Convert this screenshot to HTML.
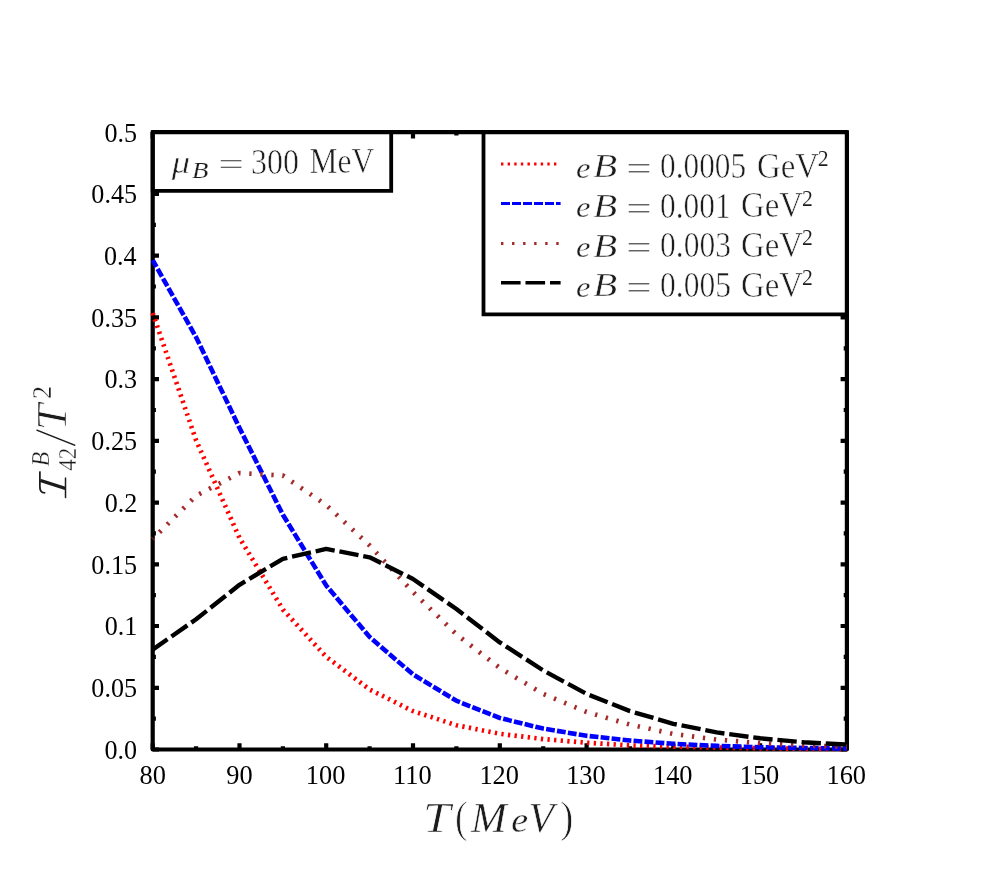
<!DOCTYPE html>
<html><head><meta charset="utf-8"><title>chart</title>
<style>html,body{margin:0;padding:0;background:#fff;}body{width:997px;height:886px;position:relative;overflow:hidden;font-family:"Liberation Serif",serif;}</style></head>
<body>
<svg width="997" height="886" viewBox="0 0 997 886" style="position:absolute;left:0;top:0">
<rect x="0" y="0" width="997" height="886" fill="#fff"/>
<path d="M152.7,749.5 v-6.3 M152.7,132.2 v6.3 M196.1,749.5 v-3.2 M196.1,132.2 v3.2 M239.5,749.5 v-6.3 M239.5,132.2 v6.3 M282.9,749.5 v-3.2 M282.9,132.2 v3.2 M326.2,749.5 v-6.3 M326.2,132.2 v6.3 M369.6,749.5 v-3.2 M369.6,132.2 v3.2 M413.0,749.5 v-6.3 M413.0,132.2 v6.3 M456.4,749.5 v-3.2 M456.4,132.2 v3.2 M499.8,749.5 v-6.3 M499.8,132.2 v6.3 M543.2,749.5 v-3.2 M543.2,132.2 v3.2 M586.6,749.5 v-6.3 M586.6,132.2 v6.3 M630.0,749.5 v-3.2 M630.0,132.2 v3.2 M673.3,749.5 v-6.3 M673.3,132.2 v6.3 M716.7,749.5 v-3.2 M716.7,132.2 v3.2 M760.1,749.5 v-6.3 M760.1,132.2 v6.3 M803.5,749.5 v-3.2 M803.5,132.2 v3.2 M846.9,749.5 v-6.3 M846.9,132.2 v6.3 M152.7,749.5 h6.3 M846.9,749.5 h-6.3 M152.7,718.6 h3.2 M846.9,718.6 h-3.2 M152.7,687.8 h6.3 M846.9,687.8 h-6.3 M152.7,656.9 h3.2 M846.9,656.9 h-3.2 M152.7,626.0 h6.3 M846.9,626.0 h-6.3 M152.7,595.2 h3.2 M846.9,595.2 h-3.2 M152.7,564.3 h6.3 M846.9,564.3 h-6.3 M152.7,533.4 h3.2 M846.9,533.4 h-3.2 M152.7,502.6 h6.3 M846.9,502.6 h-6.3 M152.7,471.7 h3.2 M846.9,471.7 h-3.2 M152.7,440.9 h6.3 M846.9,440.9 h-6.3 M152.7,410.0 h3.2 M846.9,410.0 h-3.2 M152.7,379.1 h6.3 M846.9,379.1 h-6.3 M152.7,348.3 h3.2 M846.9,348.3 h-3.2 M152.7,317.4 h6.3 M846.9,317.4 h-6.3 M152.7,286.5 h3.2 M846.9,286.5 h-3.2 M152.7,255.7 h6.3 M846.9,255.7 h-6.3 M152.7,224.8 h3.2 M846.9,224.8 h-3.2 M152.7,193.9 h6.3 M846.9,193.9 h-6.3 M152.7,163.1 h3.2 M846.9,163.1 h-3.2 M152.7,132.2 h6.3 M846.9,132.2 h-6.3" stroke="#000" stroke-width="4.2" fill="none"/>
<path d="M152.7,132.2 V190.8 H391.2 V132.2 Z" fill="#fff" stroke="#000" stroke-width="3.8"/>
<path d="M846.9,132.2 H483.5 V314.3 H846.9 Z" fill="#fff" stroke="#000" stroke-width="3.8"/>
<rect x="152.7" y="132.2" width="694.2" height="617.3" fill="none" stroke="#000" stroke-width="4.2" stroke-linejoin="round"/>
<path d="M152.7,313.0 L196.1,440.4 L239.5,537.9 L282.9,609.5 L326.2,656.8 L369.6,689.5 L413.0,711.1 L456.4,725.2 L499.8,733.8 L543.2,739.1 L586.6,742.7 L630.0,745.4 L673.3,746.6 L716.7,747.6 L760.1,748.3 L803.5,748.8 L846.9,749.0" fill="none" stroke="#ff0000" stroke-width="4.7" stroke-dasharray="2.3 4.33"/>
<path d="M152.7,260.2 L196.1,337.2 L239.5,428.0 L282.9,514.8 L326.2,585.5 L369.6,637.0 L413.0,674.4 L456.4,700.8 L499.8,718.0 L543.2,728.6 L586.6,735.8 L630.0,740.5 L673.3,743.8 L716.7,745.9 L760.1,747.2 L803.5,748.0 L846.9,748.5" fill="none" stroke="#0000ff" stroke-width="4.6" stroke-dasharray="8.8 2.23" stroke-dashoffset="1"/>
<path d="M152.7,539.0 L196.1,495.7 L239.5,473.1 L282.9,475.5 L326.2,505.0 L369.6,545.5 L413.0,592.0 L456.4,634.3 L499.8,668.0 L543.2,693.9 L586.6,712.0 L630.0,724.6 L673.3,733.9 L716.7,739.6 L760.1,743.2 L803.5,745.4 L846.9,746.9" fill="none" stroke="#a52a2a" stroke-width="4.7" stroke-dasharray="2.3 8.75" stroke-dashoffset="1.5"/>
<path d="M152.7,649.6 L196.1,619.3 L239.5,584.8 L282.9,558.8 L326.2,548.9 L369.6,557.3 L413.0,579.0 L456.4,609.0 L499.8,642.4 L543.2,670.4 L586.6,693.9 L630.0,711.1 L673.3,723.8 L716.7,732.4 L760.1,738.3 L803.5,742.3 L846.9,744.6" fill="none" stroke="#000000" stroke-width="4.4" stroke-dasharray="19.4 4.85" stroke-dashoffset="1.4" stroke-linejoin="round"/>
<path d="M501,164 H560.6" stroke="#ff0000" stroke-width="3.0" stroke-dasharray="2.4 4.22" fill="none"/>
<path d="M501,203.6 H560.6" stroke="#0000ff" stroke-width="3.0" stroke-dasharray="9.0 2.0" fill="none"/>
<path d="M501,243.4 H560.6" stroke="#a52a2a" stroke-width="3.0" stroke-dasharray="2.4 8.65" fill="none"/>
<path d="M501,282.7 H560.6" stroke="#000000" stroke-width="3.4" stroke-dasharray="19.6 4.9" fill="none"/>
<g opacity="0.999">
<text transform="translate(104.38,758.88) scale(0.2611,0.2720)" font-family="Liberation Serif, serif" font-size="100" fill="#000">0.0</text>
<text transform="translate(91.33,697.15) scale(0.2611,0.2720)" font-family="Liberation Serif, serif" font-size="100" fill="#000">0.05</text>
<text transform="translate(104.79,635.42) scale(0.2611,0.2720)" font-family="Liberation Serif, serif" font-size="100" fill="#000">0.1</text>
<text transform="translate(91.33,573.69) scale(0.2611,0.2720)" font-family="Liberation Serif, serif" font-size="100" fill="#000">0.15</text>
<text transform="translate(104.79,511.95) scale(0.2611,0.2720)" font-family="Liberation Serif, serif" font-size="100" fill="#000">0.2</text>
<text transform="translate(91.33,450.23) scale(0.2611,0.2720)" font-family="Liberation Serif, serif" font-size="100" fill="#000">0.25</text>
<text transform="translate(104.38,388.49) scale(0.2611,0.2720)" font-family="Liberation Serif, serif" font-size="100" fill="#000">0.3</text>
<text transform="translate(91.33,326.76) scale(0.2611,0.2720)" font-family="Liberation Serif, serif" font-size="100" fill="#000">0.35</text>
<text transform="translate(103.98,265.04) scale(0.2611,0.2720)" font-family="Liberation Serif, serif" font-size="100" fill="#000">0.4</text>
<text transform="translate(91.33,203.31) scale(0.2611,0.2720)" font-family="Liberation Serif, serif" font-size="100" fill="#000">0.45</text>
<text transform="translate(104.38,141.58) scale(0.2611,0.2720)" font-family="Liberation Serif, serif" font-size="100" fill="#000">0.5</text>
<text transform="translate(139.50,784.37) scale(0.2639,0.2764)" font-family="Liberation Serif, serif" font-size="100" fill="#000">80</text>
<text transform="translate(226.28,784.37) scale(0.2639,0.2764)" font-family="Liberation Serif, serif" font-size="100" fill="#000">90</text>
<text transform="translate(305.84,784.37) scale(0.2639,0.2764)" font-family="Liberation Serif, serif" font-size="100" fill="#000">100</text>
<text transform="translate(393.10,784.37) scale(0.2639,0.2764)" font-family="Liberation Serif, serif" font-size="100" fill="#000">110</text>
<text transform="translate(479.39,784.37) scale(0.2639,0.2764)" font-family="Liberation Serif, serif" font-size="100" fill="#000">120</text>
<text transform="translate(566.16,784.37) scale(0.2639,0.2764)" font-family="Liberation Serif, serif" font-size="100" fill="#000">130</text>
<text transform="translate(652.94,784.37) scale(0.2639,0.2764)" font-family="Liberation Serif, serif" font-size="100" fill="#000">140</text>
<text transform="translate(739.71,784.37) scale(0.2639,0.2764)" font-family="Liberation Serif, serif" font-size="100" fill="#000">150</text>
<text transform="translate(826.49,784.37) scale(0.2639,0.2764)" font-family="Liberation Serif, serif" font-size="100" fill="#000">160</text>
<text transform="translate(171.75,173.08) scale(0.3662,0.3220)" font-family="Liberation Serif, serif" font-size="100" font-style="italic" fill="#1c1c1c" stroke="#fff" stroke-width="0.55" vector-effect="non-scaling-stroke">μ</text>
<text transform="translate(191.92,177.52) scale(0.2688,0.2316)" font-family="Liberation Serif, serif" font-size="100" font-style="italic" fill="#1c1c1c" stroke="#fff" stroke-width="0.2" vector-effect="non-scaling-stroke">B</text>
<text transform="translate(218.14,175.02) scale(0.4574,0.3102)" font-family="Liberation Serif, serif" font-size="100" fill="#1c1c1c" stroke="#fff" stroke-width="0.55" vector-effect="non-scaling-stroke">=</text>
<text transform="translate(250.98,173.77) scale(0.3196,0.3497)" font-family="Liberation Serif, serif" font-size="100" fill="#1c1c1c" stroke="#fff" stroke-width="0.55" vector-effect="non-scaling-stroke">300</text>
<text transform="translate(309.59,172.97) scale(0.3145,0.3519)" font-family="Liberation Serif, serif" font-size="100" fill="#1c1c1c" stroke="#fff" stroke-width="0.55" vector-effect="non-scaling-stroke">MeV</text>
<text transform="translate(576.05,177.67) scale(0.3269,0.2996)" font-family="Liberation Serif, serif" font-size="100" font-style="italic" fill="#1c1c1c" stroke="#fff" stroke-width="0.35" vector-effect="non-scaling-stroke">e</text>
<text transform="translate(592.98,177.28) scale(0.3965,0.3459)" font-family="Liberation Serif, serif" font-size="100" font-style="italic" fill="#1c1c1c" stroke="#fff" stroke-width="0.55" vector-effect="non-scaling-stroke">B</text>
<text transform="translate(625.94,180.08) scale(0.4574,0.3328)" font-family="Liberation Serif, serif" font-size="100" fill="#1c1c1c" stroke="#fff" stroke-width="0.55" vector-effect="non-scaling-stroke">=</text>
<text transform="translate(660.10,178.07) scale(0.3127,0.3497)" font-family="Liberation Serif, serif" font-size="100" fill="#1c1c1c" stroke="#fff" stroke-width="0.55" vector-effect="non-scaling-stroke">0.0005</text>
<text transform="translate(757.05,177.66) scale(0.3282,0.3599)" font-family="Liberation Serif, serif" font-size="100" fill="#1c1c1c" stroke="#fff" stroke-width="0.55" vector-effect="non-scaling-stroke">GeV</text>
<text transform="translate(817.68,165.84) scale(0.2176,0.2230)" font-family="Liberation Serif, serif" font-size="100" fill="#1c1c1c" stroke="#fff" stroke-width="0.1" vector-effect="non-scaling-stroke">2</text>
<text transform="translate(576.05,217.34) scale(0.3269,0.2996)" font-family="Liberation Serif, serif" font-size="100" font-style="italic" fill="#1c1c1c" stroke="#fff" stroke-width="0.35" vector-effect="non-scaling-stroke">e</text>
<text transform="translate(592.98,216.95) scale(0.3965,0.3459)" font-family="Liberation Serif, serif" font-size="100" font-style="italic" fill="#1c1c1c" stroke="#fff" stroke-width="0.55" vector-effect="non-scaling-stroke">B</text>
<text transform="translate(625.94,219.75) scale(0.4574,0.3328)" font-family="Liberation Serif, serif" font-size="100" fill="#1c1c1c" stroke="#fff" stroke-width="0.55" vector-effect="non-scaling-stroke">=</text>
<text transform="translate(660.10,217.74) scale(0.3137,0.3497)" font-family="Liberation Serif, serif" font-size="100" fill="#1c1c1c" stroke="#fff" stroke-width="0.55" vector-effect="non-scaling-stroke">0.001</text>
<text transform="translate(741.05,217.33) scale(0.3282,0.3599)" font-family="Liberation Serif, serif" font-size="100" fill="#1c1c1c" stroke="#fff" stroke-width="0.55" vector-effect="non-scaling-stroke">GeV</text>
<text transform="translate(802.08,205.51) scale(0.2176,0.2230)" font-family="Liberation Serif, serif" font-size="100" fill="#1c1c1c" stroke="#fff" stroke-width="0.1" vector-effect="non-scaling-stroke">2</text>
<text transform="translate(576.05,257.01) scale(0.3269,0.2996)" font-family="Liberation Serif, serif" font-size="100" font-style="italic" fill="#1c1c1c" stroke="#fff" stroke-width="0.35" vector-effect="non-scaling-stroke">e</text>
<text transform="translate(592.98,256.62) scale(0.3965,0.3459)" font-family="Liberation Serif, serif" font-size="100" font-style="italic" fill="#1c1c1c" stroke="#fff" stroke-width="0.55" vector-effect="non-scaling-stroke">B</text>
<text transform="translate(625.94,259.42) scale(0.4574,0.3328)" font-family="Liberation Serif, serif" font-size="100" fill="#1c1c1c" stroke="#fff" stroke-width="0.55" vector-effect="non-scaling-stroke">=</text>
<text transform="translate(660.10,257.41) scale(0.3152,0.3497)" font-family="Liberation Serif, serif" font-size="100" fill="#1c1c1c" stroke="#fff" stroke-width="0.55" vector-effect="non-scaling-stroke">0.003</text>
<text transform="translate(741.05,257.00) scale(0.3282,0.3599)" font-family="Liberation Serif, serif" font-size="100" fill="#1c1c1c" stroke="#fff" stroke-width="0.55" vector-effect="non-scaling-stroke">GeV</text>
<text transform="translate(802.08,245.18) scale(0.2176,0.2230)" font-family="Liberation Serif, serif" font-size="100" fill="#1c1c1c" stroke="#fff" stroke-width="0.1" vector-effect="non-scaling-stroke">2</text>
<text transform="translate(576.05,296.68) scale(0.3269,0.2996)" font-family="Liberation Serif, serif" font-size="100" font-style="italic" fill="#1c1c1c" stroke="#fff" stroke-width="0.35" vector-effect="non-scaling-stroke">e</text>
<text transform="translate(592.98,296.29) scale(0.3965,0.3459)" font-family="Liberation Serif, serif" font-size="100" font-style="italic" fill="#1c1c1c" stroke="#fff" stroke-width="0.55" vector-effect="non-scaling-stroke">B</text>
<text transform="translate(625.94,299.09) scale(0.4574,0.3328)" font-family="Liberation Serif, serif" font-size="100" fill="#1c1c1c" stroke="#fff" stroke-width="0.55" vector-effect="non-scaling-stroke">=</text>
<text transform="translate(660.10,297.08) scale(0.3152,0.3497)" font-family="Liberation Serif, serif" font-size="100" fill="#1c1c1c" stroke="#fff" stroke-width="0.55" vector-effect="non-scaling-stroke">0.005</text>
<text transform="translate(741.05,296.67) scale(0.3282,0.3599)" font-family="Liberation Serif, serif" font-size="100" fill="#1c1c1c" stroke="#fff" stroke-width="0.55" vector-effect="non-scaling-stroke">GeV</text>
<text transform="translate(802.08,284.85) scale(0.2176,0.2230)" font-family="Liberation Serif, serif" font-size="100" fill="#1c1c1c" stroke="#fff" stroke-width="0.1" vector-effect="non-scaling-stroke">2</text>
<text transform="translate(422.64,831.92) scale(0.5020,0.4258)" font-family="Liberation Serif, serif" font-size="100" font-style="italic" fill="#1c1c1c" stroke="#fff" stroke-width="0.8" vector-effect="non-scaling-stroke">T</text>
<text transform="translate(455.11,832.15) scale(0.3748,0.4419)" font-family="Liberation Serif, serif" font-size="100" fill="#1c1c1c" stroke="#fff" stroke-width="0.8" vector-effect="non-scaling-stroke">(</text>
<text transform="translate(471.07,831.80) scale(0.4292,0.4221)" font-family="Liberation Serif, serif" font-size="100" font-style="italic" fill="#1c1c1c" stroke="#fff" stroke-width="0.5" vector-effect="non-scaling-stroke">M</text>
<text transform="translate(511.26,831.77) scale(0.3810,0.3636)" font-family="Liberation Serif, serif" font-size="100" font-style="italic" fill="#1c1c1c" stroke="#fff" stroke-width="0.35" vector-effect="non-scaling-stroke">e</text>
<text transform="translate(528.55,832.23) scale(0.4167,0.4287)" font-family="Liberation Serif, serif" font-size="100" font-style="italic" fill="#1c1c1c" stroke="#fff" stroke-width="0.5" vector-effect="non-scaling-stroke">V</text>
<text transform="translate(560.02,832.15) scale(0.4043,0.4419)" font-family="Liberation Serif, serif" font-size="100" fill="#1c1c1c" stroke="#fff" stroke-width="0.8" vector-effect="non-scaling-stroke">)</text>
<g transform="translate(0,498) rotate(-90)">
<path d="M5.2,44.6 C5.0,41.2 7.5,39.9 11.5,39.9 L26.0,39.9" fill="none" stroke="#1c1c1c" stroke-width="1.7" stroke-linecap="round"/>
<path d="M17.6,40.2 L9.6,65.3" fill="none" stroke="#1c1c1c" stroke-width="3.3"/>
<path d="M0.6,65.5 L19.8,65.5" fill="none" stroke="#1c1c1c" stroke-width="1.7" stroke-linecap="round"/>
<text transform="translate(31.56,48.55) scale(0.2422,0.2512)" font-family="Liberation Serif, serif" font-size="100" font-style="italic" fill="#1c1c1c" stroke="#fff" stroke-width="0.35" vector-effect="non-scaling-stroke">B</text>
<text transform="translate(27.22,76.12) scale(0.2287,0.2447)" font-family="Liberation Serif, serif" font-size="100" fill="#1c1c1c" stroke="#fff" stroke-width="0.3" vector-effect="non-scaling-stroke">42</text>
<path d="M52.6,75.2 L68.0,36.5" fill="none" stroke="#1c1c1c" stroke-width="1.45"/>
<text transform="translate(67.41,66.32) scale(0.4754,0.4120)" font-family="Liberation Serif, serif" font-size="100" font-style="italic" fill="#1c1c1c" stroke="#fff" stroke-width="0.8" vector-effect="non-scaling-stroke">T</text>
<text transform="translate(98.96,51.02) scale(0.2617,0.2759)" font-family="Liberation Serif, serif" font-size="100" fill="#1c1c1c" stroke="#fff" stroke-width="0.3" vector-effect="non-scaling-stroke">2</text>
</g>
</g>
</svg>
</body></html>
